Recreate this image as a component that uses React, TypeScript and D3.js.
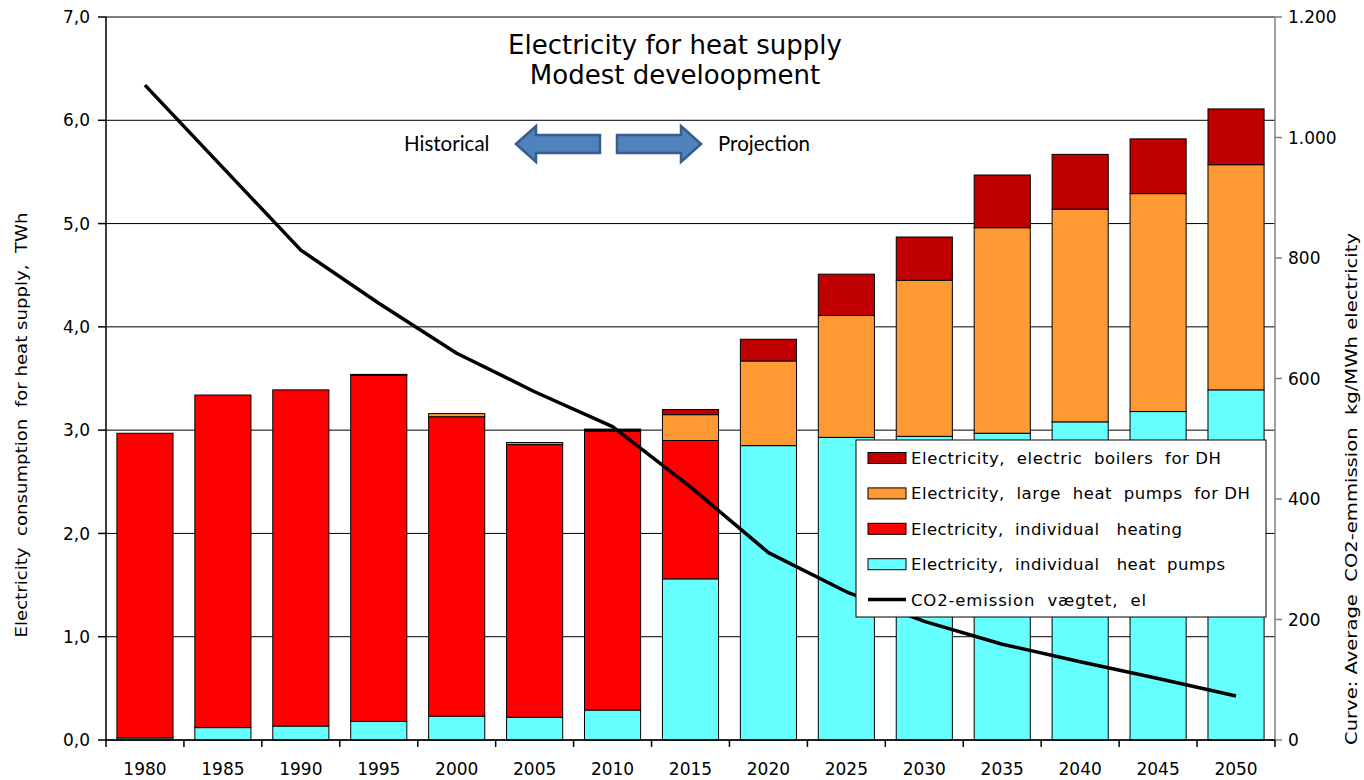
import React from "react";
import * as d3 from "d3";

const years = ["1980","1985","1990","1995","2000","2005","2010","2015","2020","2025","2030","2035","2040","2045","2050"];
const indivHeatPumps = [0.02, 0.12, 0.135, 0.18, 0.23, 0.22, 0.29, 1.56, 2.85, 2.93, 2.94, 2.97, 3.08, 3.18, 3.39];
const indivHeating = [2.95, 3.22, 3.255, 3.35, 2.90, 2.64, 2.70, 1.34, 0, 0, 0, 0, 0, 0, 0];
const largeHeatPumps = [0, 0, 0, 0.01, 0.03, 0.02, 0.01, 0.25, 0.82, 1.18, 1.51, 1.99, 2.06, 2.11, 2.18];
const elBoilers = [0, 0, 0, 0, 0, 0, 0.01, 0.05, 0.21, 0.40, 0.42, 0.51, 0.53, 0.53, 0.54];
const co2 = [1087, 950, 813, 725, 642, 578, 520, 420, 311, 246, 197, 159, 130, 102, 73];

const leftTicks = [0, 1, 2, 3, 4, 5, 6, 7];
const rightTicks = [0, 200, 400, 600, 800, 1000, 1200];

const seriesKeys = ["hp", "heat", "lhp", "boil"];
const seriesColors: Record<string, string> = { hp: "#66FFFF", heat: "#FF0000", lhp: "#FF9933", boil: "#C00000" };
const legendItems = [
  { label: "Electricity,  electric  boilers  for DH", color: "#C00000", len: 310 },
  { label: "Electricity,  large  heat  pumps  for DH", color: "#FF9933", len: 339 },
  { label: "Electricity,  individual   heating", color: "#FF0000", len: 271 },
  { label: "Electricity,  individual   heat  pumps", color: "#66FFFF", len: 314 },
];
const co2Label = "CO2-emission  vægtet,  el";

const W = 1364, H = 780;
const L = 106, R = 1275, T = 17, B = 740;
const font = "DejaVu Sans, Verdana, sans-serif";
const pre = { whiteSpace: "pre" as const };

export default function App() {
  const x = d3.scaleBand<string>().domain(years).range([L, R]).paddingInner(0.28).paddingOuter(0.14);
  const y = d3.scaleLinear().domain([0, 7]).range([B, T]);
  const y2 = d3.scaleLinear().domain([0, 1200]).range([B, T]);

  const table = years.map((yr, i) => ({ year: yr, hp: indivHeatPumps[i], heat: indivHeating[i], lhp: largeHeatPumps[i], boil: elBoilers[i] }));
  const stacked = d3.stack<any>().keys(seriesKeys)(table);

  const line = d3.line<number>()
    .x((_, i) => (x(years[i]) as number) + x.bandwidth() / 2)
    .y((d) => y2(d));

  const fmtL = (v: number) => v.toFixed(1).replace(".", ",");
  const fmtR = (v: number) => (v >= 1000 ? `${Math.floor(v / 1000)}.${String(v % 1000).padStart(3, "0")}` : String(v));

  const step = x.step();

  const arrowL = `M516,144 L536,126 L536,135 L600,135 L600,153 L536,153 L536,162 Z`;
  const arrowR = `M701,144 L681,126 L681,135 L617,135 L617,153 L681,153 L681,162 Z`;

  const lgX = 856, lgY = 440, lgW = 410, lgH = 177;
  const rowY = (i: number) => lgY + 18 + i * 35.4;

  return (
    <svg width={W} height={H} style={{ position: "absolute", left: 0, top: 0, background: "#fff" }} fontFamily={font}>
      {leftTicks.map((t) => (
        <line key={"g" + t} x1={L} x2={R} y1={y(t)} y2={y(t)} stroke="#000" strokeWidth={1} />
      ))}
      {stacked.map((s) => (
        <g key={s.key} fill={seriesColors[s.key]} stroke="#000" strokeWidth={1}>
          {s.map((d, i) =>
            d[1] - d[0] > 0 ? (
              <rect key={i} x={x(years[i])} width={x.bandwidth()} y={y(d[1])} height={y(d[0]) - y(d[1])} />
            ) : null
          )}
        </g>
      ))}
      <line x1={L} x2={L} y1={T} y2={B} stroke="#000" strokeWidth={1.5} />
      {leftTicks.map((t) => (
        <g key={"lt" + t}>
          <line x1={L - 8} x2={L} y1={y(t)} y2={y(t)} stroke="#000" strokeWidth={1.5} />
          <text x={L - 16} y={y(t)} dy="0.36em" textAnchor="end" fontSize={17}>{fmtL(t)}</text>
        </g>
      ))}
      <line x1={R} x2={R} y1={T} y2={B} stroke="#808080" strokeWidth={1.5} />
      {rightTicks.map((t) => (
        <g key={"rt" + t}>
          <line x1={R} x2={R + 7} y1={y2(t)} y2={y2(t)} stroke="#808080" strokeWidth={1.5} />
          <text x={R + 13} y={y2(t)} dy="0.36em" textAnchor="start" fontSize={17}>{fmtR(t)}</text>
        </g>
      ))}
      <line x1={L} x2={R} y1={B} y2={B} stroke="#000" strokeWidth={1.5} />
      {years.map((yr, i) => (
        <g key={"xt" + yr}>
          <line x1={L + step * i} x2={L + step * i} y1={B} y2={B + 7} stroke="#000" strokeWidth={1.5} />
          <text x={(x(yr) as number) + x.bandwidth() / 2} y={775} textAnchor="middle" fontSize={17}>{yr}</text>
        </g>
      ))}
      <line x1={R} x2={R} y1={B} y2={B + 7} stroke="#000" strokeWidth={1.5} />
      <path d={line(co2) as string} fill="none" stroke="#000" strokeWidth={3.5} strokeLinejoin="round" />
      <text x={675} y={54} textAnchor="middle" fontSize={26}>Electricity for heat supply</text>
      <text x={675} y={84} textAnchor="middle" fontSize={26}>Modest develoopment</text>
      <text x={404} y={151} fontSize={20.5} fontFamily="Lato, sans-serif">Historical</text>
      <text x={718} y={151} fontSize={20.5} fontFamily="Lato, sans-serif">Projection</text>
      <path d={arrowL} fill="#4F81BD" stroke="#385D8A" strokeWidth={2.5} strokeLinejoin="miter" />
      <path d={arrowR} fill="#4F81BD" stroke="#385D8A" strokeWidth={2.5} strokeLinejoin="miter" />
      <text transform="translate(27,425) rotate(-90)" textAnchor="middle" fontSize={16} textLength={425} lengthAdjust="spacingAndGlyphs" style={pre}>Electricity  consumption  for heat supply,  TWh</text>
      <text transform="translate(1357,489) rotate(-90)" textAnchor="middle" fontSize={16} textLength={512} lengthAdjust="spacingAndGlyphs" style={pre}>Curve: Average  CO2-emmission  kg/MWh electricity</text>
      <rect x={lgX} y={lgY} width={lgW} height={lgH} fill="#fff" stroke="#000" strokeWidth={1} />
      {legendItems.map((it, i) => (
        <g key={"lg" + i}>
          <rect x={868} y={rowY(i) - 5.5} width={38} height={11} fill={it.color} stroke="#000" strokeWidth={1} />
          <text x={911} y={rowY(i)} dy="0.36em" fontSize={16.5} textLength={it.len} lengthAdjust="spacing" style={pre}>{it.label}</text>
        </g>
      ))}
      <line x1={868} x2={906} y1={rowY(4)} y2={rowY(4)} stroke="#000" strokeWidth={3.5} />
      <text x={911} y={rowY(4)} dy="0.36em" fontSize={16.5} textLength={235} lengthAdjust="spacing" style={pre}>{co2Label}</text>
    </svg>
  );
}
